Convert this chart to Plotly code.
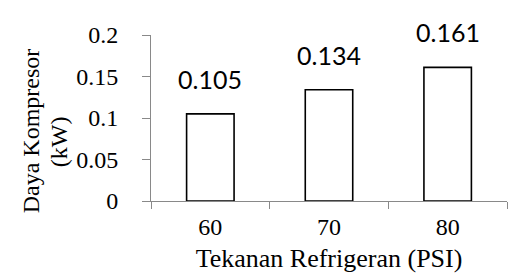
import plotly.graph_objects as go

categories = ["60", "70", "80"]
values = [0.105, 0.134, 0.161]
labels = ["0.105", "0.134", "0.161"]
y_ticks = [0, 0.05, 0.1, 0.15, 0.2]
y_tick_text = ["0", "0.05", "0.1", "0.15", "0.2"]
y_title_lines = ["Daya Kompresor", "(kW)"]
x_title = "Tekanan Refrigeran (PSI)"

AX = "#898989"
SERIF = "Liberation Serif"

fig = go.Figure()
fig.add_trace(go.Bar(
    x=categories, y=values, width=0.4,
    marker=dict(color="white", line=dict(color="black", width=1.6)),
))
for i, (v, t) in enumerate(zip(values, labels)):
    fig.add_annotation(x=i, y=v, text=t, showarrow=False, yanchor="bottom",
                       yshift=18, font=dict(family="Lato", size=25, color="black"))

for (xp, yp), line in zip([(-0.337, 0.42), (-0.258, 0.355)], y_title_lines):
    fig.add_annotation(xref="paper", yref="paper", x=xp, y=yp, textangle=-90,
                       text=line, showarrow=False,
                       xanchor="center", yanchor="middle",
                       font=dict(family=SERIF, size=24, color="black"))

fig.update_layout(
    width=517, height=280,
    margin=dict(l=143, r=18, t=27, b=87),
    paper_bgcolor="white", plot_bgcolor="white",
    font=dict(family=SERIF, color="black"),
    showlegend=False,
    xaxis=dict(type="category", range=[-0.5, 2.5], showline=True, linecolor=AX, linewidth=1,
               ticks="outside", ticklen=7, tickcolor=AX, tickson="boundaries",
               showgrid=False, tickfont=dict(family=SERIF, size=24, color="black"),
               ticklabelstandoff=4,
               title=dict(text=x_title, standoff=10,
                          font=dict(family=SERIF, size=26, color="black"))),
    yaxis=dict(range=[0, 0.2], tickvals=y_ticks, ticktext=y_tick_text,
               showline=True, linecolor=AX, linewidth=1, ticks="outside",
               ticklen=8, tickcolor=AX, showgrid=False, zeroline=False,
               ticklabelstandoff=19,
               tickfont=dict(family=SERIF, size=24, color="black")),
)
fig.write_html("out.html")
